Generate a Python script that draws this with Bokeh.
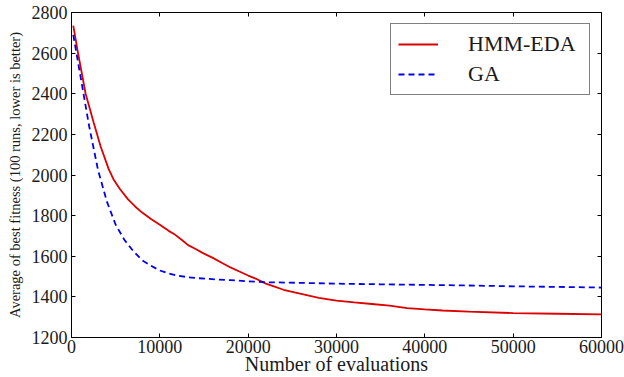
from bokeh.plotting import figure
from bokeh.models import LinearAxis, FixedTicker, Legend, LegendItem, Range1d
from bokeh.embed import file_html
from bokeh.resources import INLINE

# --- data ---
hmm_x = [200, 700, 1600, 2500, 3300, 4200, 4800, 5500, 6400, 7200, 8000, 9000, 10000,
         11000, 11600, 12500, 13200, 14000, 15000, 16000, 17000, 18000, 19000, 20000,
         21000, 22000, 23000, 24000, 25000, 26000, 28000, 30000, 32000, 34000, 36000,
         38000, 40000, 42000, 45000, 50000, 55000, 60000]
hmm_y = [2735, 2610, 2400, 2260, 2140, 2030, 1975, 1930, 1880, 1845, 1815, 1783, 1755,
         1725, 1710, 1680, 1655, 1637, 1613, 1592, 1568, 1545, 1525, 1505,
         1487, 1465, 1450, 1435, 1425, 1415, 1395, 1382, 1373, 1365, 1357,
         1345, 1338, 1333, 1327, 1320, 1317, 1314]

ga_x = [200, 1000, 2000, 3000, 4000, 5000, 6000, 7000, 8000, 9000, 10000, 11000, 12000,
        13000, 14000, 16000, 18000, 20000, 22000, 26000, 30000, 35000, 40000, 45000,
        50000, 55000, 60000]
ga_y = [2690, 2490, 2240, 2025, 1870, 1755, 1680, 1625, 1580, 1553, 1530, 1515, 1505,
        1498, 1493, 1487, 1482, 1477, 1472, 1469, 1465, 1462, 1459, 1456,
        1452, 1449, 1446]

x_ticks = [0, 10000, 20000, 30000, 40000, 50000, 60000]
y_ticks = [1200, 1400, 1600, 1800, 2000, 2200, 2400, 2600, 2800]

series_names = ["HMM-EDA", "GA"]
x_label = "Number of evaluations"
y_label = "Average of best fitness (100 runs, lower is better)"

FONT = "Liberation Serif"

p = figure(width=624, height=377, output_backend="svg", toolbar_location=None,
           x_range=Range1d(0, 60000), y_range=Range1d(1200, 2800),
           min_border_left=71, min_border_right=23, min_border_top=12, min_border_bottom=38,
           x_axis_label=x_label, y_axis_label=y_label)

p.xgrid.visible = False
p.ygrid.visible = False
p.outline_line_color = "black"
p.outline_line_width = 1
p.background_fill_color = "white"
p.border_fill_color = "white"

def style_axis(ax, ticks, show_labels=True):
    ax.ticker = FixedTicker(ticks=ticks)
    ax.axis_line_color = "black"
    ax.major_tick_line_color = "black"
    ax.major_tick_in = 4
    ax.major_tick_out = 0
    ax.minor_tick_line_color = None
    ax.major_label_text_font = FONT
    ax.major_label_text_color = "#1a1a1a"
    ax.axis_label_text_font = FONT
    ax.axis_label_text_font_style = "normal"
    ax.axis_label_text_color = "#1a1a1a"
    if not show_labels:
        ax.major_label_overrides = {t: "" for t in ticks}
        ax.major_label_standoff = 0

style_axis(p.xaxis[0], x_ticks)
style_axis(p.yaxis[0], y_ticks)
p.xaxis.major_label_text_font_size = "18px"
p.yaxis.major_label_text_font_size = "18px"
p.xaxis.major_label_standoff = 2
p.yaxis.major_label_standoff = 4
p.xaxis.axis_label_text_font_size = "20px"
p.xaxis.axis_label_standoff = -3
p.yaxis.axis_label_text_font_size = "14.5px"
p.yaxis.axis_label_standoff = 6

top_axis = LinearAxis()
style_axis(top_axis, x_ticks, show_labels=False)
p.add_layout(top_axis, "above")
right_axis = LinearAxis()
style_axis(right_axis, y_ticks, show_labels=False)
p.add_layout(right_axis, "right")

r1 = p.line(hmm_x, hmm_y, line_color="#dd0000", line_width=1.8)
r2 = p.line(ga_x, ga_y, line_color="#0000ee", line_width=1.8, line_dash="6 4")

legend = Legend(items=[LegendItem(label=series_names[0], renderers=[r1]),
                       LegendItem(label=series_names[1], renderers=[r2])],
                location="top_right")
legend.label_text_font = FONT
legend.label_text_font_size = "22px"
legend.label_text_color = "#1a1a1a"
legend.glyph_width = 40
legend.glyph_height = 26
legend.label_height = 26
legend.label_width = 114
legend.label_standoff = 30
legend.spacing = 4
legend.padding = 7
legend.margin = 11
legend.border_line_color = "black"
legend.border_line_width = 1
legend.background_fill_alpha = 1
p.add_layout(legend, "center")

open("out.html", "w").write(file_html(p, INLINE))
